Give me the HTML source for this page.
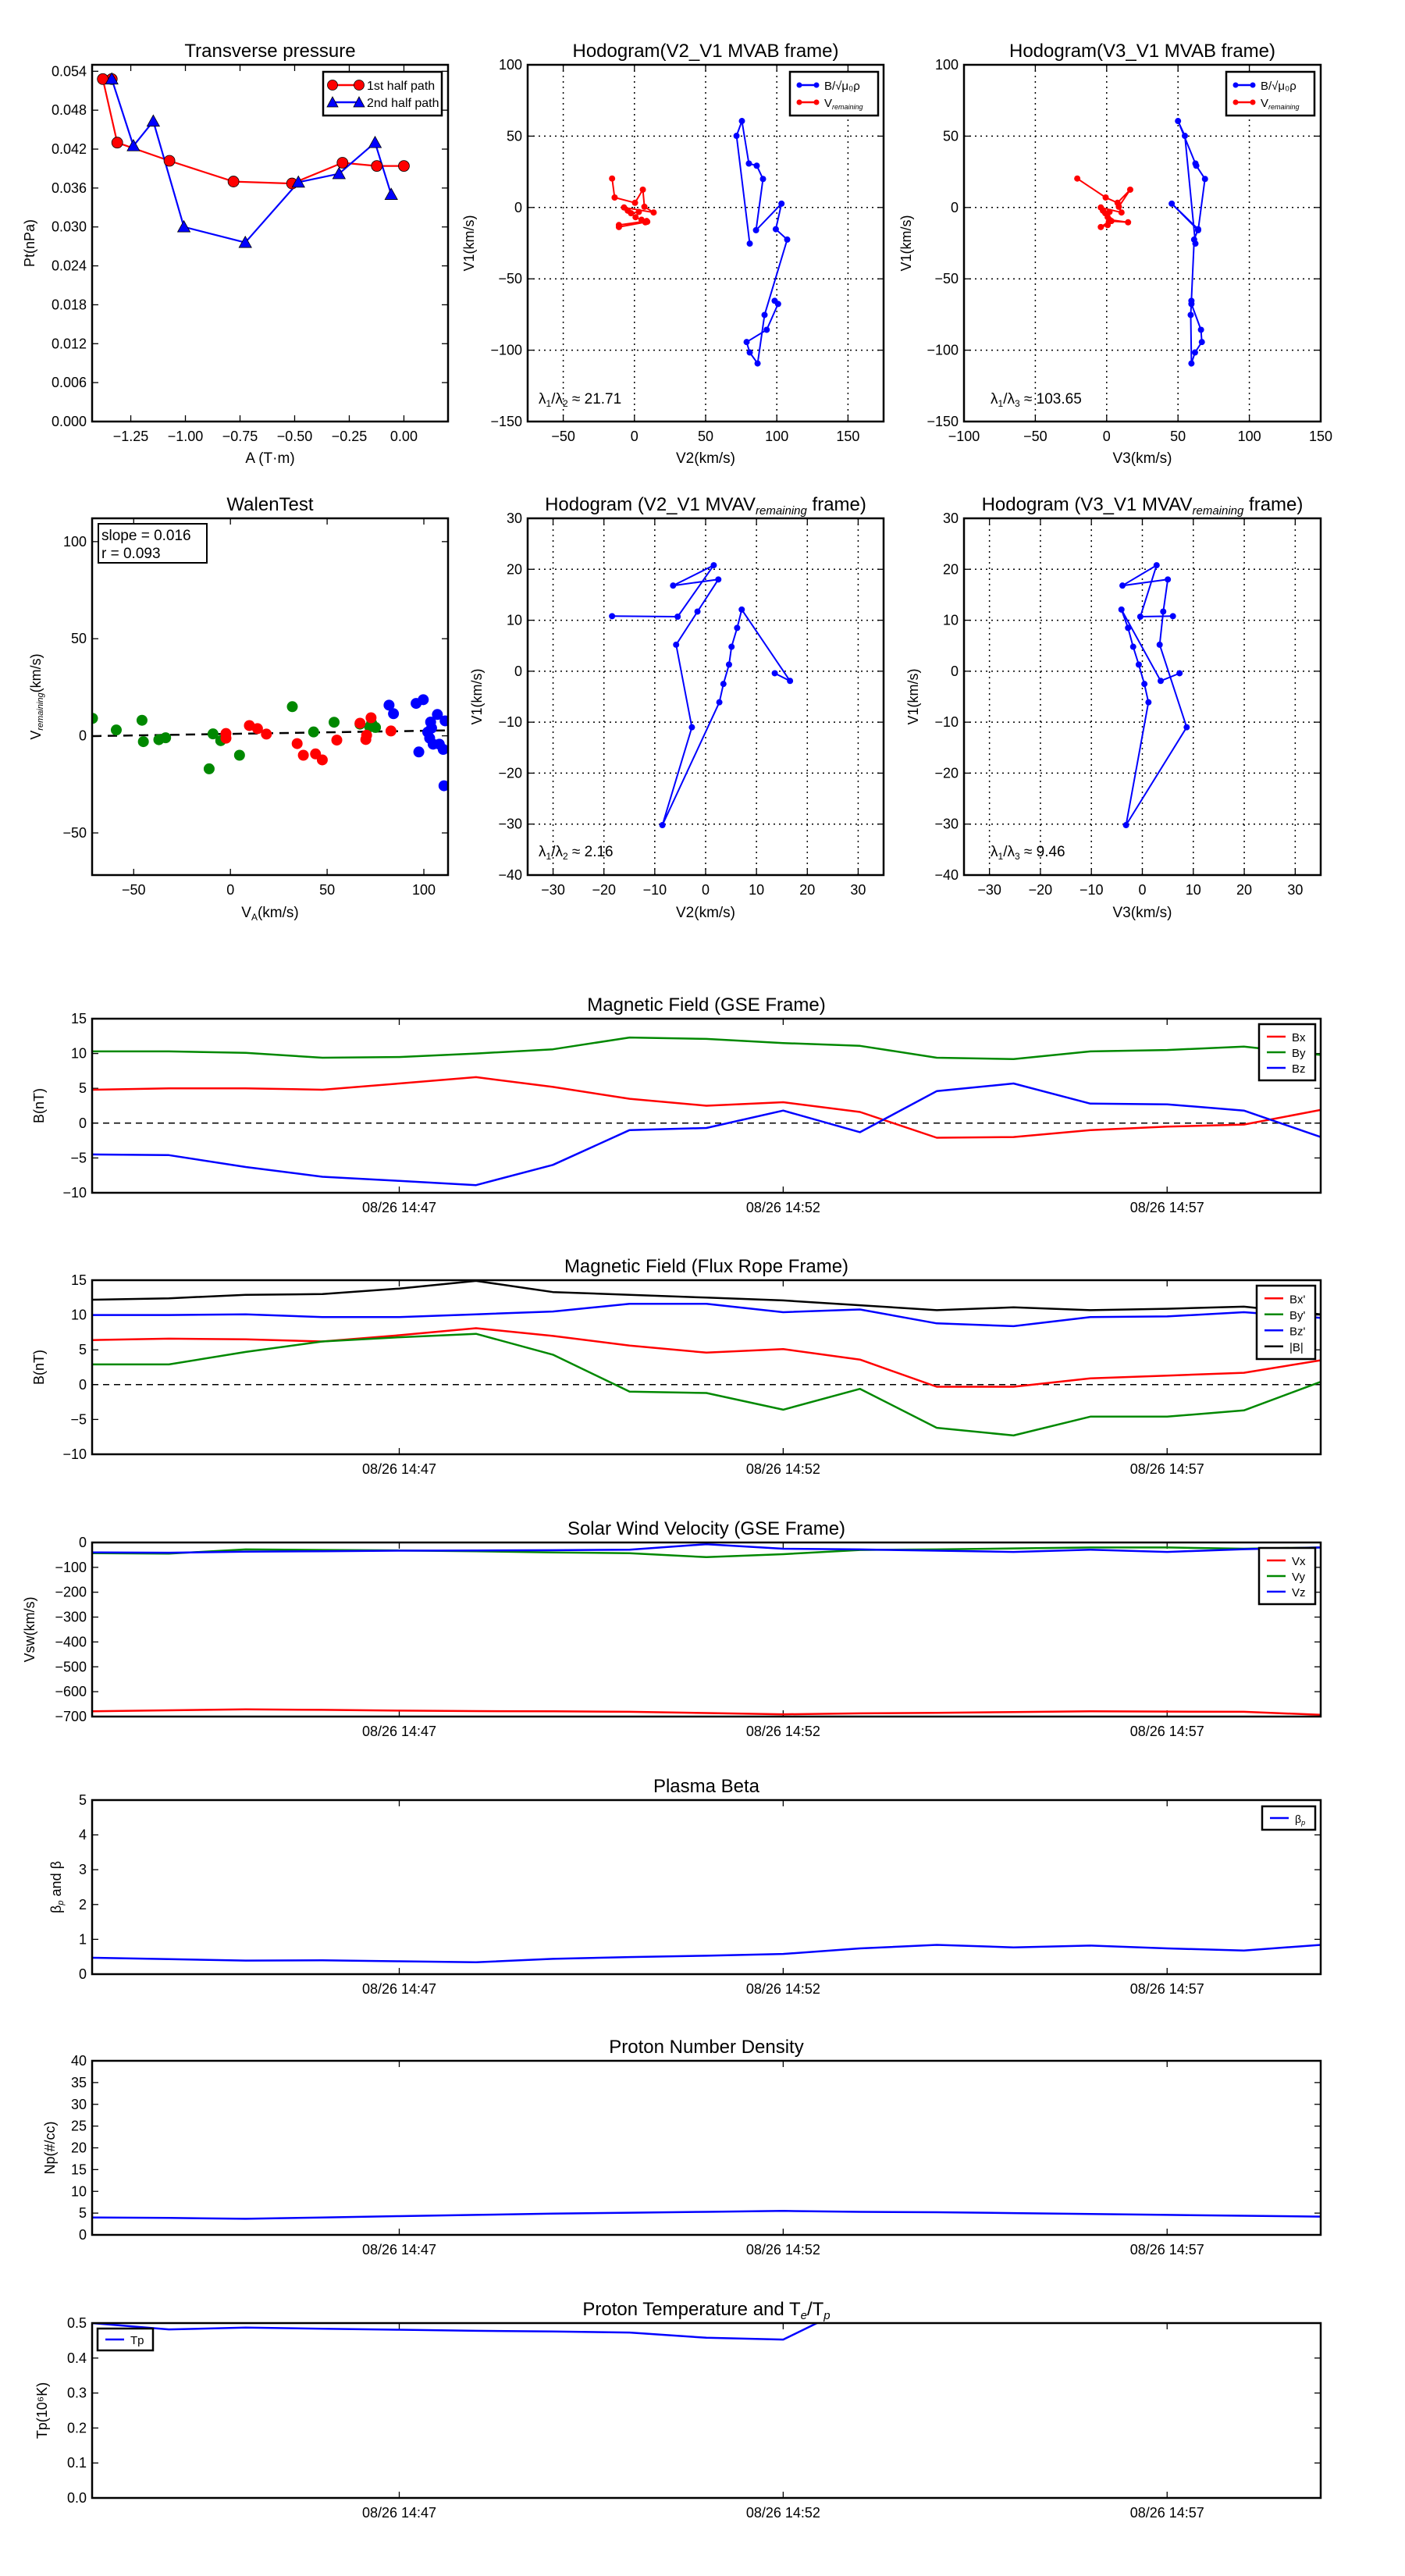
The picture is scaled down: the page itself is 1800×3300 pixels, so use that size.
<!DOCTYPE html>
<html><head><meta charset="utf-8"><title>Flux rope analysis</title>
<style>
html,body{margin:0;padding:0;background:#fff;}
svg{display:block;font-family:"Liberation Sans",sans-serif;}
</style></head>
<body>
<svg id="chart" xmlns="http://www.w3.org/2000/svg" width="1800" height="3300" viewBox="0 0 1800 3300"></svg>
<script>
// ---------- Transverse pressure data ----------
const tp1A = [-1.337,-1.378,-1.312,-1.073,-0.780,-0.512,-0.281,-0.124,0.0];
const tp1P = [0.0528,0.0528,0.0430,0.0402,0.0370,0.0367,0.0399,0.0394,0.0394];
const tp2A = [-1.337,-1.238,-1.147,-1.007,-0.726,-0.483,-0.297,-0.132,-0.058];
const tp2P = [0.0528,0.0425,0.0463,0.0300,0.0276,0.0369,0.0382,0.0430,0.0350];
const tpYTicks = [0,0.006,0.012,0.018,0.024,0.030,0.036,0.042,0.048,0.054];
const tpXTicks = [-1.25,-1.0,-0.75,-0.5,-0.25,0.0];
// ---------- MVAB hodogram data ----------
const hbV1 = [-25.3,50.2,60.6,30.8,29.3,20,-15.9,2.7,-15.2,-22.5,-75.3,-109.3,-101.6,-94.3,-85.7,-67.6,-65.4];
const hbV2 = [81.0,71.7,75.5,80.4,85.9,90.3,85.4,103.3,99.3,107.3,91.4,86.5,81.0,78.8,92.9,100.9,98.5];
const hbV3 = [62.2,54.8,50,62.2,62.8,68.9,64.1,45.6,64.1,61.3,58.9,59.4,61.9,66.7,66.1,59.4,59.4];
const hrV1 = [20.3,7.0,3.3,12.5,0.5,-3.5,0,-2.2,-4,-3.1,-6.8,-8.6,-10.4,-9.5,-12.3,-13.7,-10];
const hrV2 = [-15.7,-13.9,0.4,5.9,7.0,13.5,-7.3,-4.7,-2.4,3.1,0.8,5.0,7.7,8.6,-10.9,-10.9,9.0];
const hrV3 = [-20.6,-0.7,7.6,16.5,8.5,10.4,-4.1,-2.6,-1,2.0,0.7,2.0,15,3.3,0.7,-4.1,1.5];
// ---------- MVAV hodogram data ----------
const hvV1 = [10.8,10.7,20.8,16.8,18,11.7,5.2,-11,-30.2,-6.1,-2.5,1.3,4.8,8.5,12.1,-1.9,-0.4];
const hvV2 = [-18.4,-5.5,1.6,-6.4,2.5,-1.6,-5.8,-2.7,-8.5,2.7,3.5,4.6,5.1,6.2,7.1,16.6,13.6];
const hvV3 = [6.0,-0.4,2.8,-3.9,5.0,4.1,3.4,8.7,-3.2,1.2,0.4,-0.7,-1.8,-2.8,-4.1,3.6,7.3];
// ---------- Walen test data ----------
const wgX = [-71.3,-59,-45.7,-45,-37,-33.5,-11,-9,-5,4.7,32,43,53.6,67,72,75,73];
const wgY = [9,3,8,-3,-2,-1,-17,1,-2.5,-10,15,2,7,6,4.6,4.3,6.5];
const wrX = [-2.3,-2.3,9.8,14,18.6,34.5,37.7,44,47.5,55,67,70,70.4,72.7,83];
const wrY = [1.2,-1.2,5.3,3.7,0.9,-4,-10,-9.3,-12.4,-2.2,6.5,-1.9,0.3,9.3,2.5];
const wbX = [82,84.3,96,99.7,97.4,102,103.5,104,104.8,107,108,110,111,110.4,103];
const wbY = [15.8,11.4,16.7,18.6,-8.3,1.9,7.1,4,-4.3,11,-4.3,-7,7.7,-25.7,-1.2];
const walenSlope = 0.016;
const walenIntercept = 1.0;
// ---------- time series data (minutes after 14:43) ----------
const tMin = [0,1,2,3,4,5,6,7,8,9,10,11,12,13,14,15,16];
const timeTicks = [4,9,14];
const timeLabels = ["08/26 14:47","08/26 14:52","08/26 14:57"];
const gseBx = [4.8,5.0,5.0,4.8,5.7,6.6,5.2,3.5,2.5,3.0,1.6,-2.1,-2.0,-1.0,-0.5,-0.2,1.9];
const gseBy = [10.3,10.3,10.1,9.4,9.5,10.0,10.6,12.3,12.1,11.5,11.1,9.4,9.2,10.3,10.5,11.0,9.8];
const gseBz = [-4.5,-4.6,-6.3,-7.7,-8.3,-8.9,-6.0,-1.0,-0.7,1.8,-1.3,4.6,5.7,2.8,2.7,1.8,-2.0];
const frBx = [6.4,6.6,6.5,6.2,7.1,8.1,7.0,5.6,4.6,5.1,3.6,-0.3,-0.3,0.9,1.3,1.7,3.5];
const frBy = [2.9,2.9,4.7,6.2,6.8,7.3,4.3,-1.0,-1.2,-3.6,-0.6,-6.2,-7.3,-4.6,-4.6,-3.7,0.4];
const frBz = [10.0,10.0,10.1,9.7,9.7,10.1,10.5,11.6,11.6,10.4,10.8,8.8,8.4,9.7,9.8,10.4,9.6];
const frBt = [12.2,12.4,12.9,13.0,13.8,14.9,13.3,12.9,12.5,12.1,11.4,10.7,11.1,10.7,10.9,11.2,10.1];
const vx = [-679,-675,-671,-673,-676,-678,-679,-681,-686,-691,-687,-685,-682,-679,-680,-681,-693];
const vy = [-43,-45,-28,-30,-32,-35,-40,-43,-59,-47,-30,-28,-24,-20,-20,-25,-20];
const vz = [-40,-41,-37,-35,-33,-32,-31,-29,-7,-25,-28,-33,-38,-29,-38,-27,-20];
const betaP = [0.47,0.43,0.39,0.40,0.37,0.34,0.44,0.49,0.53,0.58,0.74,0.84,0.77,0.82,0.74,0.68,0.84];
const np = [4.0,3.9,3.7,4.0,4.3,4.6,4.9,5.1,5.3,5.5,5.3,5.2,5.0,4.8,4.6,4.4,4.2];
const tp = [0.50,0.482,0.487,0.484,0.481,0.478,0.476,0.473,0.458,0.453,0.56,0.6,0.62,0.6,0.61,0.6,0.62];

const NS = "http://www.w3.org/2000/svg";
const svg = document.getElementById('chart');
let clipN = 0;
function mk(tag, parent, a){ const e = document.createElementNS(NS, tag); if(a){for(const k in a) e.setAttribute(k, a[k]);} parent.appendChild(e); return e; }
function lin(d0,d1,r0,r1){ return v => r0 + (v-d0)*(r1-r0)/(d1-d0); }
function fmt(v,dec){ return (v<0?"\u2212":"") + Math.abs(v).toFixed(dec); }

function makeAxes(name, L, T, R, B, xd, yd, xt, yt, xdec, ydec, grid, xlabels){
  const g = mk('g', svg);
  
  
  const x = lin(xd[0], xd[1], L, R), y = lin(yd[0], yd[1], B, T);
  const id = 'c' + (clipN++);
  const cp = mk('clipPath', g, {id:id});
  mk('rect', cp, {x:L, y:T, width:R-L, height:B-T});
  xt.forEach((v,i) => {
    const px = x(v);
    if(grid){ const gl = mk('line', g, {x1:px,x2:px,y1:T,y2:B,stroke:'#000','stroke-width':1.5,'stroke-dasharray':'2,5'});   }
    mk('line', g, {x1:px,x2:px,y1:B,y2:B-8,stroke:'#000','stroke-width':1.3});
    mk('line', g, {x1:px,x2:px,y1:T,y2:T+8,stroke:'#000','stroke-width':1.3});
    const t = mk('text', g, {x:px, y:B+25, 'text-anchor':'middle','font-size':18});
    t.textContent = xlabels ? xlabels[i] : fmt(v, xdec);
    
    
  });
  yt.forEach(v => {
    const py = y(v);
    if(grid){ const gl = mk('line', g, {x1:L,x2:R,y1:py,y2:py,stroke:'#000','stroke-width':1.5,'stroke-dasharray':'2,5'});   }
    mk('line', g, {x1:L,x2:L+8,y1:py,y2:py,stroke:'#000','stroke-width':1.3});
    mk('line', g, {x1:R,x2:R-8,y1:py,y2:py,stroke:'#000','stroke-width':1.3});
    const t = mk('text', g, {x:L-7, y:py+6, 'text-anchor':'end','font-size':18});
    t.textContent = fmt(v, ydec);
    
    
  });
  const plot = mk('g', g, {'clip-path':'url(#'+id+')'});
  const fr = mk('rect', g, {x:L,y:T,width:R-L,height:B-T,fill:'none',stroke:'#000','stroke-width':2.5});
  
  
  return {g, plot, x, y, L, T, R, B};
}
function title(ax, parts, cx){
  const t = mk('text', ax.g, {x: cx===undefined ? (ax.L+ax.R)/2 : cx, y: ax.T-10, 'text-anchor':'middle','font-size':24});
  parts.forEach(p => { const s = mk('tspan', t, p.sub ? {'font-size':15,'font-style':'italic','dy':5} : (p.after?{'dy':-5}:{})); s.textContent = p.t; });
  
  
}
function ylabel(ax, parts, xpos){
  const cy = (ax.T+ax.B)/2;
  const t = mk('text', ax.g, {x:xpos, y:cy, 'text-anchor':'middle','font-size':18, transform:'rotate(-90 '+xpos+' '+cy+')'});
  parts.forEach(p => { const s = mk('tspan', t, p.sub?{'font-size':11,'font-style':'italic','dy':3}:(p.up?{'dy':-3}:{})); s.textContent = p.t; });
  
  
  return t;
}
function xlabel(ax, parts, ypos){
  const t = mk('text', ax.g, {x:(ax.L+ax.R)/2, y:ypos, 'text-anchor':'middle','font-size':19});
  parts.forEach(p => { const s = mk('tspan', t, p.sub?{'font-size':12,'dy':4}:(p.up?{'dy':-4}:{})); s.textContent = p.t; });
  
  
  return t;
}
function line(ax, xs, ys, color, name, w){
  const pts = xs.map((v,i) => ax.x(v).toFixed(1)+','+ax.y(ys[i]).toFixed(1)).join(' ');
  const p = mk('polyline', ax.plot, {points:pts, fill:'none', stroke:color, 'stroke-width':w||2.5, 'stroke-linejoin':'round'});
  
  
}
function dots(ax, xs, ys, color, r, name, outline){
  xs.forEach((v,i) => {
    const c = mk('circle', ax.plot, {cx:ax.x(v), cy:ax.y(ys[i]), r:r, fill:color, stroke: outline?'#000':'none','stroke-width':0.8});
    
    
  });
}
function tris(ax, xs, ys, color, s, name){
  xs.forEach((v,i) => {
    const px = ax.x(v), py = ax.y(ys[i]);
    const p = mk('polygon', ax.plot, {points:`${px},${py-s} ${px-s},${py+s*0.8} ${px+s},${py+s*0.8}`, fill:color, stroke:'#000','stroke-width':0.8});
    
    
  });
}
function legend(ax, x0, y0, w, entries, rowH){
  const lg = mk('g', ax.g);
  
  
  mk('rect', lg, {x:x0, y:y0, width:w, height:entries.length*rowH+12, fill:'#fff', stroke:'#000','stroke-width':2.5});
  entries.forEach((e,i) => {
    const cy = y0 + 6 + rowH*(i+0.5);
    const en = mk('g', lg);
    
    
    mk('line', en, {x1:x0+10, x2:x0+(e.lw||36), y1:cy, y2:cy, stroke:e.c, 'stroke-width':2.5});
    if(e.m==='o'){ mk('circle',en,{cx:x0+12,cy:cy,r:6.5,fill:e.c,stroke:'#000','stroke-width':0.8}); mk('circle',en,{cx:x0+(e.lw||36)-2,cy:cy,r:6.5,fill:e.c,stroke:'#000','stroke-width':0.8}); }
    if(e.m==='^'){ [x0+12, x0+(e.lw||36)-2].forEach(px => mk('polygon',en,{points:`${px},${cy-7} ${px-7},${cy+6} ${px+7},${cy+6}`,fill:e.c,stroke:'#000','stroke-width':0.8})); }
    if(e.m==='.'){ mk('circle',en,{cx:x0+12,cy:cy,r:3.5,fill:e.c}); mk('circle',en,{cx:x0+(e.lw||36)-2,cy:cy,r:3.5,fill:e.c}); }
    const t = mk('text', en, {x:x0+(e.lw||36)+8, y:cy+6, 'font-size':e.fs||16});
    e.parts.forEach(p => { const s = mk('tspan', t, p.sub?{'font-size':9,'font-style':'italic','dy':3}:{}); s.textContent = p.t; });
  });
}
function note(ax, x0, y0, parts){
  const t = mk('text', ax.g, {x:x0, y:y0, 'font-size':19});
  parts.forEach(p => { const s = mk('tspan', t, p.sub?{'font-size':12,'dy':4}:(p.up?{'dy':-4}:{})); s.textContent = p.t; });
  
  
}

// ===== Row 1 =====
const a1 = makeAxes('transverse-pressure-chart', 118,83,574,540, [-1.427,0.202],[0,0.055], tpXTicks, tpYTicks, 2, 3, false);
title(a1,[{t:'Transverse pressure'}]);
ylabel(a1,[{t:'Pt(nPa)'}],44);
xlabel(a1,[{t:'A (T\u00b7m)'}],593);
line(a1,tp1A,tp1P,'#f00','first-half-path-line',2.2);
line(a1,tp2A,tp2P,'#00f','second-half-path-line',2.2);
dots(a1,tp1A,tp1P,'#f00',7,'first-half-point',true);
tris(a1,tp2A,tp2P,'#00f',8,'second-half-point');
legend(a1,414,92,152,[{c:'#f00',m:'o',lw:48,parts:[{t:'1st half path'}]},{c:'#00f',m:'^',lw:48,parts:[{t:'2nd half path'}]}],22);

const a2 = makeAxes('hodogram-v2-v1-mvab', 676,83,1132,540, [-75,175],[-150,100], [-50,0,50,100,150],[-150,-100,-50,0,50,100],0,0,true);
title(a2,[{t:'Hodogram(V2_V1 MVAB frame)'}]);
ylabel(a2,[{t:'V1(km/s)'}],607);
xlabel(a2,[{t:'V2(km/s)'}],593);
line(a2,hbV2,hbV1,'#00f','b-hodogram-line',2);
dots(a2,hbV2,hbV1,'#00f',4,'b-hodogram-point');
line(a2,hrV2,hrV1,'#f00','v-remaining-hodogram-line',2);
dots(a2,hrV2,hrV1,'#f00',4,'v-remaining-hodogram-point');
legend(a2,1012,92,113,[{c:'#00f',m:'.',lw:36,fs:15,parts:[{t:'B/\u221a\u03bc\u2080\u03c1'}]},{c:'#f00',m:'.',lw:36,fs:15,parts:[{t:'V'},{t:'remaining',sub:true}]}],22);
note(a2,690,517,[{t:'\u03bb'},{t:'1',sub:true},{t:'/\u03bb',up:true},{t:'2',sub:true},{t:' \u2248 21.71',up:true}]);

const a3 = makeAxes('hodogram-v3-v1-mvab', 1235,83,1692,540, [-100,150],[-150,100], [-100,-50,0,50,100,150],[-150,-100,-50,0,50,100],0,0,true);
title(a3,[{t:'Hodogram(V3_V1 MVAB frame)'}]);
ylabel(a3,[{t:'V1(km/s)'}],1167);
xlabel(a3,[{t:'V3(km/s)'}],593);
line(a3,hbV3,hbV1,'#00f','b-hodogram-line',2);
dots(a3,hbV3,hbV1,'#00f',4,'b-hodogram-point');
line(a3,hrV3,hrV1,'#f00','v-remaining-hodogram-line',2);
dots(a3,hrV3,hrV1,'#f00',4,'v-remaining-hodogram-point');
legend(a3,1571,92,113,[{c:'#00f',m:'.',lw:36,fs:15,parts:[{t:'B/\u221a\u03bc\u2080\u03c1'}]},{c:'#f00',m:'.',lw:36,fs:15,parts:[{t:'V'},{t:'remaining',sub:true}]}],22);
note(a3,1269,517,[{t:'\u03bb'},{t:'1',sub:true},{t:'/\u03bb',up:true},{t:'3',sub:true},{t:' \u2248 103.65',up:true}]);

// ===== Row 2 =====
const a4 = makeAxes('walen-test-chart', 118,664,574,1121, [-71.5,112.5],[-71.7,112], [-50,0,50,100],[-50,0,50,100],0,0,false);
title(a4,[{t:'WalenTest'}]);
ylabel(a4,[{t:'V'},{t:'remaining',sub:true},{t:'(km/s)',up:true}],52);
xlabel(a4,[{t:'V'},{t:'A',sub:true},{t:'(km/s)',up:true}],1175);
{ const fitX = [-71.5,112.5]; const fitY = fitX.map(v => walenSlope*v + walenIntercept);
  const fl = mk('line', a4.plot, {x1:a4.x(fitX[0]),y1:a4.y(fitY[0]),x2:a4.x(fitX[1]),y2:a4.y(fitY[1]),stroke:'#000','stroke-width':2.5,'stroke-dasharray':'12,8'});
    }
dots(a4,wgX,wgY,'#080',7,'walen-point-green');
dots(a4,wrX,wrY,'#f00',7,'walen-point-red');
dots(a4,wbX,wbY,'#00f',7,'walen-point-blue');
{ const bx = mk('g', a4.g);  
  mk('rect', bx, {x:126,y:671,width:139,height:50,fill:'#fff',stroke:'#000','stroke-width':2});
  const t1 = mk('text', bx, {x:130,y:692,'font-size':19}); t1.textContent='slope = 0.016';
  const t2 = mk('text', bx, {x:130,y:715,'font-size':19}); t2.textContent='r = 0.093'; }

const a5 = makeAxes('hodogram-v2-v1-mvav', 676,664,1132,1121, [-35,35],[-40,30], [-30,-20,-10,0,10,20,30],[-40,-30,-20,-10,0,10,20,30],0,0,true);
title(a5,[{t:'Hodogram (V2_V1 MVAV'},{t:'remaining',sub:true},{t:' frame)',after:true}]);
ylabel(a5,[{t:'V1(km/s)'}],617);
xlabel(a5,[{t:'V2(km/s)'}],1175);
line(a5,hvV2,hvV1,'#00f','mvav-hodogram-line',2);
dots(a5,hvV2,hvV1,'#00f',4,'mvav-hodogram-point');
note(a5,690,1097,[{t:'\u03bb'},{t:'1',sub:true},{t:'/\u03bb',up:true},{t:'2',sub:true},{t:' \u2248 2.16',up:true}]);

const a6 = makeAxes('hodogram-v3-v1-mvav', 1235,664,1692,1121, [-35,35],[-40,30], [-30,-20,-10,0,10,20,30],[-40,-30,-20,-10,0,10,20,30],0,0,true);
title(a6,[{t:'Hodogram (V3_V1 MVAV'},{t:'remaining',sub:true},{t:' frame)',after:true}]);
ylabel(a6,[{t:'V1(km/s)'}],1176);
xlabel(a6,[{t:'V3(km/s)'}],1175);
line(a6,hvV3,hvV1,'#00f','mvav-hodogram-line',2);
dots(a6,hvV3,hvV1,'#00f',4,'mvav-hodogram-point');
note(a6,1269,1097,[{t:'\u03bb'},{t:'1',sub:true},{t:'/\u03bb',up:true},{t:'3',sub:true},{t:' \u2248 9.46',up:true}]);

// ===== Time series =====
function zeroLine(ax, name){ const l = mk('line', ax.plot, {x1:ax.L,x2:ax.R,y1:ax.y(0),y2:ax.y(0),stroke:'#000','stroke-width':1.5,'stroke-dasharray':'8,6'});   }
const ts = [0,16];
const b1 = makeAxes('gse-magnetic-field-chart',118,1305,1692,1528, ts,[-10,15], timeTicks,[-10,-5,0,5,10,15],0,0,false,timeLabels);
title(b1,[{t:'Magnetic Field (GSE Frame)'}]);
ylabel(b1,[{t:'B(nT)'}],56);
zeroLine(b1,'zero-line');
line(b1,tMin,gseBx,'#f00','bx-line');
line(b1,tMin,gseBy,'#080','by-line');
line(b1,tMin,gseBz,'#00f','bz-line');
legend(b1,1613,1312,72,[{c:'#f00',lw:34,fs:15,parts:[{t:'Bx'}]},{c:'#080',lw:34,fs:15,parts:[{t:'By'}]},{c:'#00f',lw:34,fs:15,parts:[{t:'Bz'}]}],20);

const b2 = makeAxes('flux-rope-magnetic-field-chart',118,1640,1692,1863, ts,[-10,15], timeTicks,[-10,-5,0,5,10,15],0,0,false,timeLabels);
title(b2,[{t:'Magnetic Field (Flux Rope Frame)'}]);
ylabel(b2,[{t:'B(nT)'}],56);
zeroLine(b2,'zero-line');
line(b2,tMin,frBx,'#f00','bx-prime-line');
line(b2,tMin,frBy,'#080','by-prime-line');
line(b2,tMin,frBz,'#00f','bz-prime-line');
line(b2,tMin,frBt,'#000','b-magnitude-line');
legend(b2,1610,1647,75,[{c:'#f00',lw:34,fs:15,parts:[{t:"Bx'"}]},{c:'#080',lw:34,fs:15,parts:[{t:"By'"}]},{c:'#00f',lw:34,fs:15,parts:[{t:"Bz'"}]},{c:'#000',lw:34,fs:15,parts:[{t:'|B|'}]}],20.5);

const b3 = makeAxes('solar-wind-velocity-chart',118,1976,1692,2199, ts,[-700,0], timeTicks,[-700,-600,-500,-400,-300,-200,-100,0],0,0,false,timeLabels);
title(b3,[{t:'Solar Wind Velocity (GSE Frame)'}]);
ylabel(b3,[{t:'Vsw(km/s)'}],44);
line(b3,tMin,vx,'#f00','vx-line');
line(b3,tMin,vy,'#080','vy-line');
line(b3,tMin,vz,'#00f','vz-line');
legend(b3,1613,1983,72,[{c:'#f00',lw:34,fs:15,parts:[{t:'Vx'}]},{c:'#080',lw:34,fs:15,parts:[{t:'Vy'}]},{c:'#00f',lw:34,fs:15,parts:[{t:'Vz'}]}],20);

const b4 = makeAxes('plasma-beta-chart',118,2306,1692,2529, ts,[0,5], timeTicks,[0,1,2,3,4,5],0,0,false,timeLabels);
title(b4,[{t:'Plasma Beta'}]);
ylabel(b4,[{t:'\u03b2'},{t:'p',sub:true},{t:' and \u03b2',up:true}],78);
line(b4,tMin,betaP,'#00f','beta-p-line');
legend(b4,1617,2314,68,[{c:'#00f',lw:34,fs:14,parts:[{t:'\u03b2'},{t:'p',sub:true}]}],18);

const b5 = makeAxes('proton-density-chart',118,2640,1692,2863, ts,[0,40], timeTicks,[0,5,10,15,20,25,30,35,40],0,0,false,timeLabels);
title(b5,[{t:'Proton Number Density'}]);
ylabel(b5,[{t:'Np(#/cc)'}],70);
line(b5,tMin,np,'#00f','np-line');

const b6 = makeAxes('proton-temperature-chart',118,2976,1692,3200, ts,[0,0.5], timeTicks,[0,0.1,0.2,0.3,0.4,0.5],0,1,false,timeLabels);
title(b6,[{t:'Proton Temperature and T'},{t:'e',sub:true},{t:'/T',after:true},{t:'p',sub:true}]);
ylabel(b6,[{t:'Tp(10\u2076K)'}],60);
line(b6,tMin,tp,'#00f','tp-line');
legend(b6,125,2983,71,[{c:'#00f',lw:34,fs:15,parts:[{t:'Tp'}]}],16);
</script>
</body></html>
